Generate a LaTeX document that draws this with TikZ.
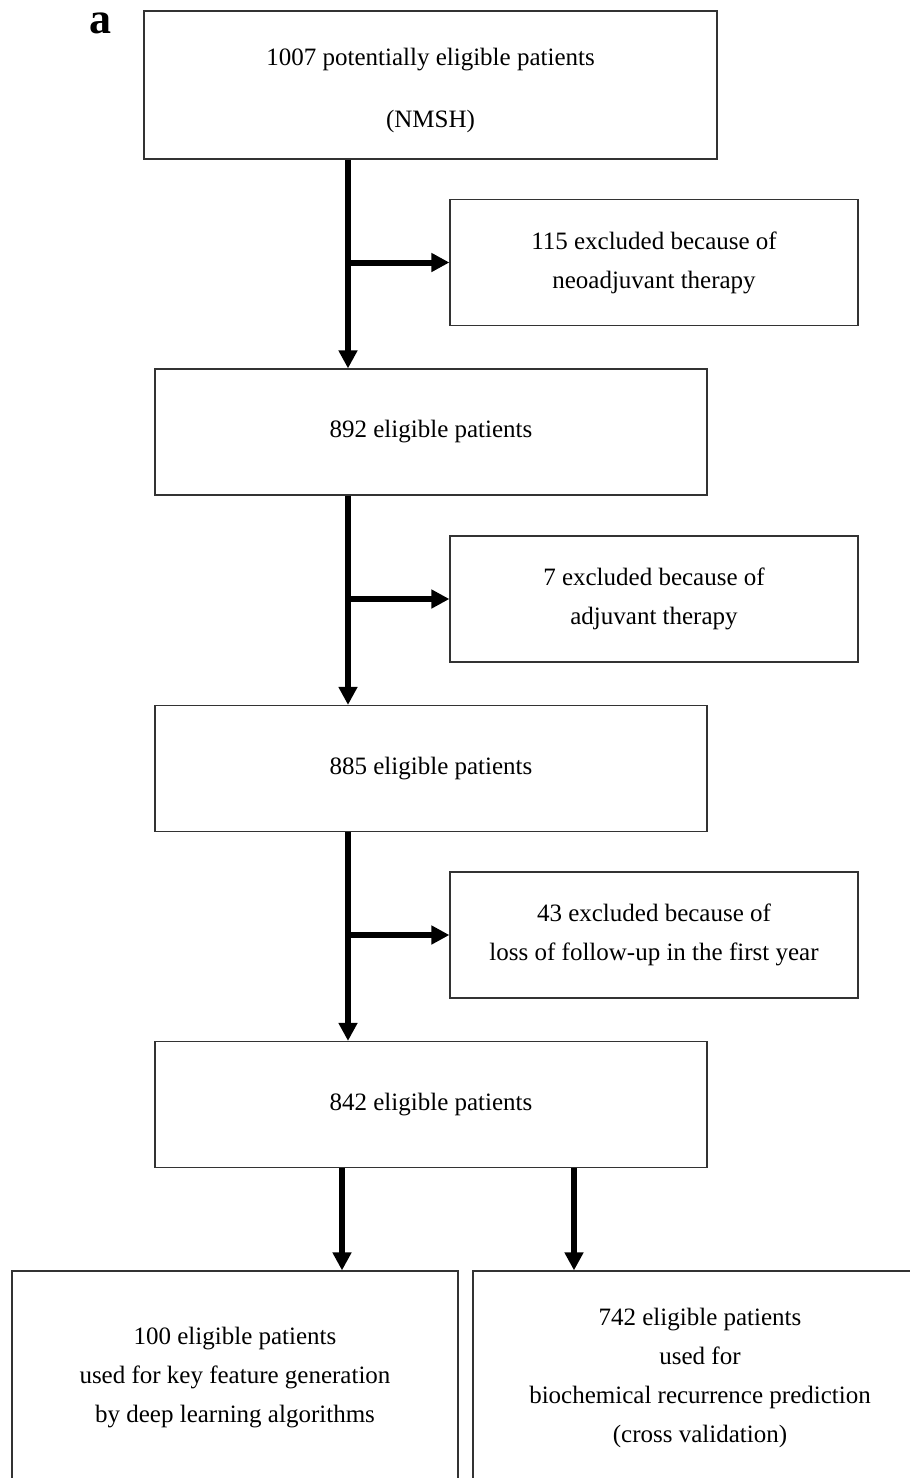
\documentclass[tikz,border=0pt]{standalone}
\usepackage{fontspec}
\setmainfont{Liberation Serif}
\usetikzlibrary{arrows.meta}
\begin{document}
\begin{tikzpicture}[x=1pt,y=-1pt,
  box/.style={draw=black!80, line width=1.2pt, rectangle, inner sep=0pt, align=center,
    font=\fontsize{25}{39}\selectfont},
  mainbox/.style={box, minimum width=552pt, minimum height=126pt},
  sidebox/.style={box, minimum width=408pt, minimum height=126pt},
  outbox/.style={box, minimum height=214pt},
  arr/.style={line width=6pt, -{Triangle[length=18pt,width=18pt]}},
  ]
\useasboundingbox (0,0) rectangle (910,1478);
\fill[white] (0,0) rectangle (910,1478);
\clip (0,0) rectangle (910,1478);

\node[font=\bfseries\fontsize{44}{44}\selectfont, anchor=base] (lbl) at (100,33) {a};

\node[box, minimum width=573pt, minimum height=148pt] (top) at (430.5,85)
  {\rule{0pt}{27.5pt}1007 potentially eligible patients\\[23pt](NMSH)};

\node[sidebox] (ex1) at (654,262.5) {115 excluded because of\\neoadjuvant therapy};
\node[mainbox] (p892) at (431,432) {892 eligible patients};
\node[sidebox] (ex2) at (654,599) {7 excluded because of\\adjuvant therapy};
\node[mainbox] (p885) at (431,768.5) {885 eligible patients};
\node[sidebox] (ex3) at (654,935) {43 excluded because of\\loss of follow-up in the first year};
\node[mainbox] (p842) at (431,1104.5) {842 eligible patients};

\node[outbox, minimum width=446pt] (o100) at (235,1378)
  {100 eligible patients\\used for key feature generation\\by deep learning algorithms};
\node[outbox, minimum width=454pt] (o742) at (700,1378)
  {742 eligible patients\\used for\\biochemical recurrence prediction\\(cross validation)};

\coordinate (spine) at (348,0);
\coordinate (lft) at (342,0);
\coordinate (rgt) at (574,0);

\draw[arr] (top.south -| spine) -- (p892.north -| spine);
\draw[arr] (ex1.west -| spine) -- (ex1.west);
\draw[arr] (p892.south -| spine) -- (p885.north -| spine);
\draw[arr] (ex2.west -| spine) -- (ex2.west);
\draw[arr] (p885.south -| spine) -- (p842.north -| spine);
\draw[arr] (ex3.west -| spine) -- (ex3.west);
\draw[arr] (p842.south -| lft) -- (o100.north -| lft);
\draw[arr] (p842.south -| rgt) -- (o742.north -| rgt);
\end{tikzpicture}
\end{document}
